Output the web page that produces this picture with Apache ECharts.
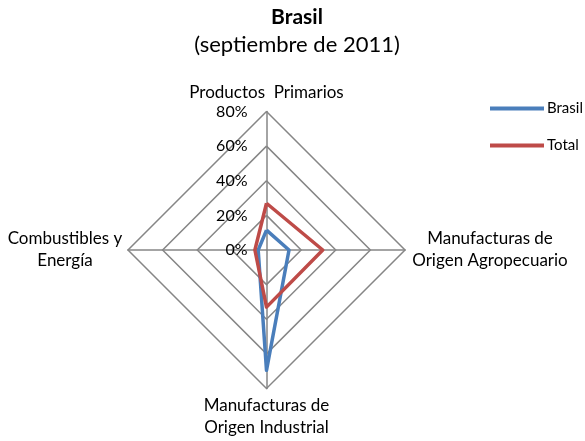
<!DOCTYPE html>
<html>
<head>
<meta charset="utf-8">
<script src="https://cdn.jsdelivr.net/npm/echarts@6/dist/echarts.min.js"></script>
<style>
  html, body { margin: 0; padding: 0; background: #fff; }
  #chart { width: 585px; height: 441px; }
</style>
</head>
<body>
<div id="chart"></div>
<script>
// indicator names, in ECharts order (counter-clockwise from the top)
const categories = [
  'Productos  Primarios',
  'Combustibles y\nEnergía',
  'Manufacturas de\nOrigen Industrial',
  'Manufacturas de\nOrigen Agropecuario'
]
// shares in percent, same order as categories
const brasilValues = [11.5, 4.8, 69.5, 13]
const totalValues = [27, 6.7, 33, 32.5]
const tickLabels = ['0%', '20%', '40%', '60%', '80%']

// rich style per label so the side labels stay centered line by line
const nameStyle = ['c', 'l', 'c', 'r']

const chart = echarts.init(document.getElementById('chart'))

chart.setOption({
  animation: false,
  textStyle: { fontFamily: 'Lato' },
  title: {
    text: 'Brasil',
    subtext: '(septiembre de 2011)',
    left: 292,
    top: 2,
    textAlign: 'center',
    itemGap: 6,
    textStyle: { fontFamily: 'Lato', fontSize: 21, fontWeight: 'bold', color: '#000' },
    subtextStyle: { fontFamily: 'Lato', fontSize: 22, color: '#000' }
  },
  legend: {
    orient: 'vertical',
    left: 485,
    top: 96,
    itemWidth: 54,
    itemHeight: 4,
    itemGap: 22,
    icon: 'rect',
    data: ['Brasil', 'Total'],
    textStyle: { fontFamily: 'Lato', fontSize: 15, color: '#000', padding: [0, 0, 0, -2] }
  },
  radar: {
    center: [266.5, 250],
    radius: 138.5,
    shape: 'polygon',
    splitNumber: 4,
    startAngle: 90,
    nameGap: 6,
    axisName: {
      color: '#000',
      fontSize: 17,
      fontFamily: 'Lato',
      lineHeight: 22,
      formatter: (name) => {
        const cls = nameStyle[categories.indexOf(name)]
        return name.split('\n').map(l => '{' + cls + '|' + l + '}').join('\n')
      },
      rich: {
        c: { fontSize: 17, fontFamily: 'Lato', color: '#000', lineHeight: 22 },
        l: { fontSize: 17, fontFamily: 'Lato', color: '#000', lineHeight: 22, width: 114, align: 'center' },
        r: { fontSize: 17, fontFamily: 'Lato', color: '#000', lineHeight: 22, width: 158, align: 'center' }
      }
    },
    indicator: categories.map((name, i) => ({
      name: name,
      min: 0,
      max: 80,
      axisLabel: i === 0 ? {
        show: true,
        color: '#000',
        fontSize: 16,
        fontFamily: 'Lato',
        margin: 19,
        formatter: v => tickLabels[Math.round(v / 20)]
      } : { show: false }
    })),
    splitLine: { lineStyle: { color: '#868686', width: 1.5 } },
    splitArea: { show: false },
    axisLine: { lineStyle: { color: '#868686', width: 1.5 } },
    axisTick: { show: false }
  },
  series: [
    {
      type: 'radar',
      symbol: 'none',
      data: [
        { name: 'Brasil', value: brasilValues, lineStyle: { color: '#4a7ebb', width: 3.5 }, itemStyle: { color: '#4a7ebb' } },
        { name: 'Total', value: totalValues, lineStyle: { color: '#be4b48', width: 3.5 }, itemStyle: { color: '#be4b48' } }
      ]
    }
  ]
})
</script>
</body>
</html>
